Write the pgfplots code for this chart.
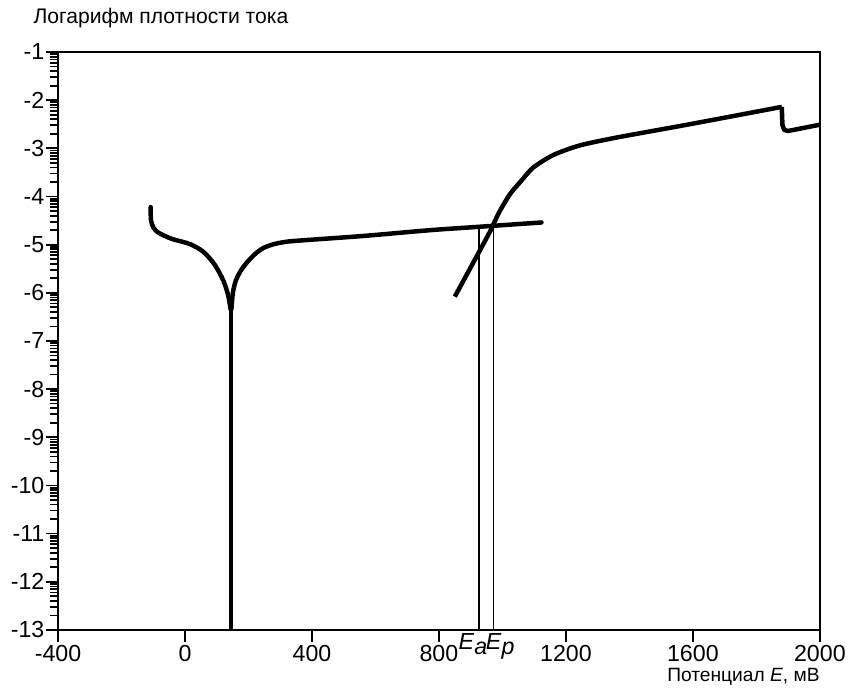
\documentclass[border=0pt]{standalone}
\usepackage{fontspec}
\setmainfont{Liberation Sans}
\usepackage{pgfplots}
\pgfplotsset{compat=1.18}

% log-style minor ticks inside every decade of the y axis
\def\minorlist{-20}
\foreach \n in {-13,...,-2}{%
  \foreach \k in {2,...,9}{%
    \pgfmathsetmacro\v{\n+log10(\k)}%
    \xdef\minorlist{\minorlist,\v}}}

\newcommand{\Esub}[1]{\textit{E}\raisebox{-0.4ex}{\textit{#1}}}

\begin{document}
\begin{tikzpicture}
\begin{axis}[
    scale only axis,
    width=476.25pt, height=361.25pt,
    xmin=-400, xmax=2000, ymin=-13, ymax=-1,
    axis line style={line width=1.25pt},
    xtick={-400,0,400,800,1200,1600,2000},
    xticklabels={-400,0,400,800,1200,1600,2000},
    ytick={-13,...,-1},
    yticklabels={-13,-12,-11,-10,-9,-8,-7,-6,-5,-4,-3,-2,-1},
    minor ytick/.expand once={\minorlist},
    extra x ticks={907,993},
    extra x tick labels={\Esub{a},\Esub{p}},
    extra x tick style={major tick length=0pt},
    xtick pos=bottom, ytick pos=left,
    tick align=outside,
    major tick length=7.5pt, minor tick length=5pt,
    every tick/.style={black, line width=1.1pt},
    tick label style={font=\fontsize{14.5}{16}\selectfont},
    yticklabel style={xshift=2.5pt},
    xticklabel style={yshift=1.5pt},
    clip=false,
]
% left branch
\addplot[black, line width=2.8pt, smooth, tension=0.5, line cap=round] coordinates {
(-108,-4.22) (-107,-4.5) (-98,-4.66) (-84,-4.75) (-60,-4.83) (-37,-4.89)
(16,-4.99) (58,-5.15) (94,-5.42) (121,-5.75) (136,-6.05) (144,-6.35)
};
% vertical drop
\addplot[black, line width=2.8pt, line cap=butt] coordinates {(145,-6.2) (145,-13)};
% right branch
\addplot[black, line width=2.8pt, smooth, tension=0.5, line cap=round] coordinates {
(146,-6.35) (151,-6.0) (160,-5.75) (175,-5.55) (194,-5.38) (220,-5.2)
(247,-5.07) (280,-4.99) (310,-4.95) (352,-4.92) (562,-4.82) (772,-4.70)
(926,-4.63) (1123,-4.54)
};
% second curve
\addplot[black, line width=2.8pt, smooth, tension=0.45, line cap=butt] coordinates {
(850,-6.08) (929,-5.12) (960,-4.74) (975,-4.53) (992,-4.3) (1024,-3.95)
(1060,-3.67) (1097,-3.40) (1160,-3.14) (1244,-2.94) (1365,-2.77)
(1590,-2.50) (1880,-2.14)
};
\addplot[black, line width=2.8pt, line join=round, line cap=butt] coordinates {
(1880,-2.14) (1882,-2.52) (1888,-2.62) (1900,-2.64) (2000,-2.51)
};
% E_a and E_p
\addplot[black, line width=1.1pt] coordinates {(926,-13) (926,-4.63)};
\addplot[black, line width=1.1pt] coordinates {(972,-13) (972,-4.58)};
\end{axis}
\node[anchor=west, inner sep=0pt, font=\fontsize{13.2}{15}\selectfont] at ([shift={(-15.5pt,21.25pt)}]current axis.north west) {Логарифм плотности тока};
\node[anchor=east, inner sep=0pt, font=\fontsize{12}{14}\selectfont] at ([shift={(0pt,-29.5pt)}]current axis.south east) {Потенциал \textit{E}, мВ};
\path ([shift={(-36.25pt,-38.125pt)}]current axis.south west) rectangle ([shift={(19.375pt,32.5pt)}]current axis.north east);
\end{tikzpicture}
\end{document}
